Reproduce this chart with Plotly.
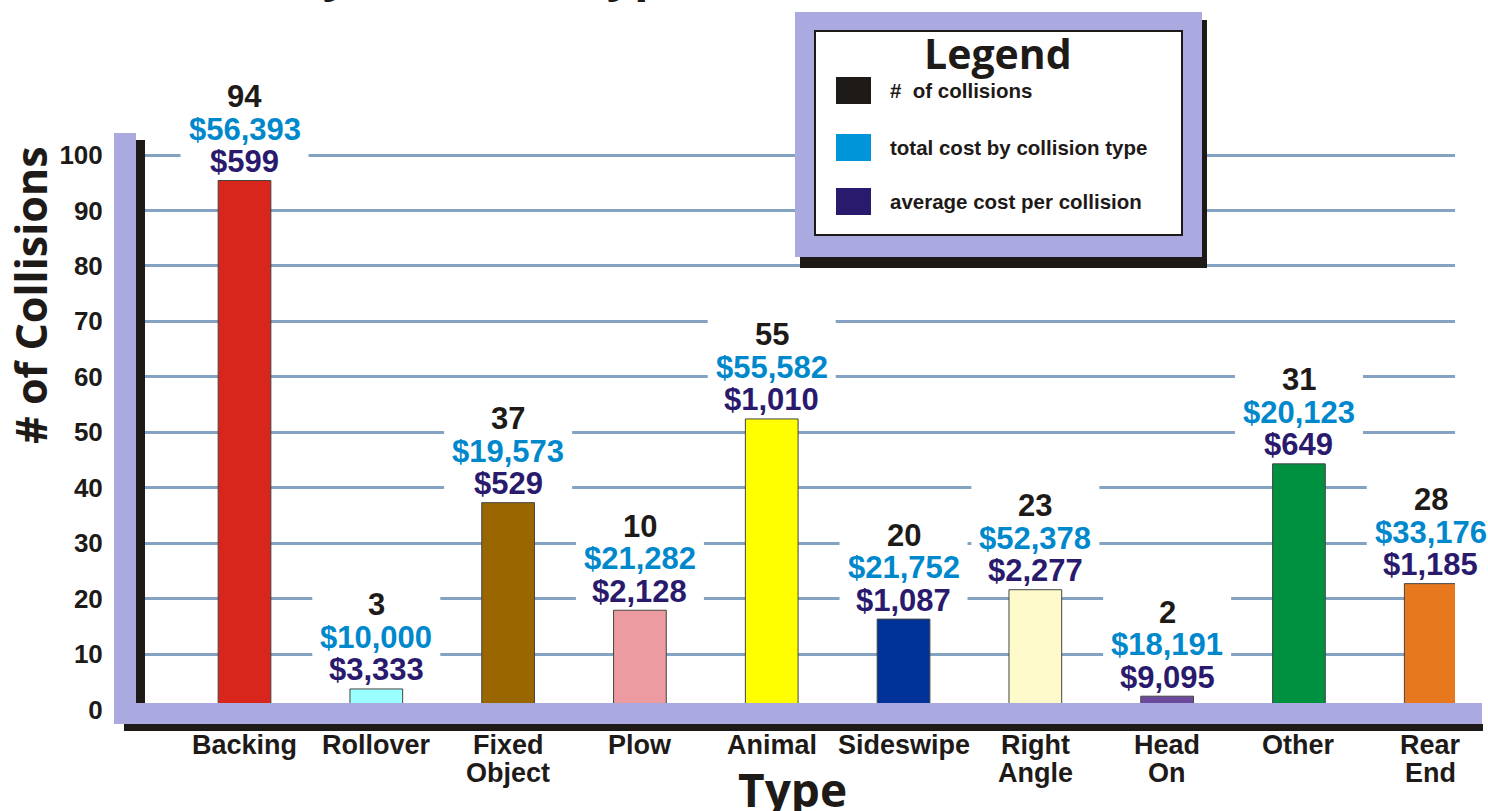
import plotly.graph_objects as go

# ---------------- data ----------------
categories = ["Backing", "Rollover", "Fixed Object", "Plow", "Animal",
              "Sideswipe", "Right Angle", "Head On", "Other", "Rear End"]
bar_heights = [95.4, 3.7, 37.3, 17.9, 52.4, 16.3, 21.6, 2.4, 44.3, 22.7]
collisions = ["94", "3", "37", "10", "55", "20", "23", "2", "31", "28"]
total_cost = ["$56,393", "$10,000", "$19,573", "$21,282", "$55,582",
              "$21,752", "$52,378", "$18,191", "$20,123", "$33,176"]
avg_cost = ["$599", "$3,333", "$529", "$2,128", "$1,010",
            "$1,087", "$2,277", "$9,095", "$649", "$1,185"]
bar_colors = ["#d9261c", "#99ffff", "#996600", "#ec9ca0", "#ffff00",
              "#003399", "#fffacc", "#6e4a9e", "#009140", "#e8781e"]
y_ticks = [0, 10, 20, 30, 40, 50, 60, 70, 80, 90, 100]
legend_items = ["#  of collisions", "total cost by collision type", "average cost per collision"]

# ---------------- styling ----------------
W, H = 1488, 811
L, R, T, B = 145, 1455, 130, 731
BLACK = "#1e1a18"
BLUE = "#0088cc"
PURPLE = "#2a1a6e"
LAV = "#aaa9e0"
GRID = "#84a2c2"
ARIAL = "Liberation Sans, Arial, sans-serif"
HUM = "Open Sans, Noto Sans, sans-serif"
Y0PX, PXU = 709.5, 5.545


def px(x):
    return (x - L) / (R - L)


def py(y):
    return (B - y) / (B - T)


fig = go.Figure()
fig.add_trace(go.Bar(
    x=categories, y=bar_heights, width=0.40,
    marker=dict(color=bar_colors, line=dict(color="#444444", width=1)),
    hoverinfo="skip", showlegend=False,
))

shapes = []
annotations = []

# white boxes behind value labels (hide grid lines) + the three label lines
for i, h in enumerate(bar_heights):
    shapes.append(dict(type="rect", xref="x", yref="y",
                       xsizemode="pixel", ysizemode="pixel",
                       xanchor=i, yanchor=h,
                       x0=-64, x1=64, y0=2, y1=106,
                       fillcolor="white", line=dict(width=0), layer="between"))
    for k, (txt, col) in enumerate([(avg_cost[i], PURPLE), (total_cost[i], BLUE), (collisions[i], BLACK)]):
        annotations.append(dict(x=categories[i], y=h, xref="x", yref="y",
                                text=txt, showarrow=False, yanchor="middle",
                                yshift=19 + 32.5 * k,
                                font=dict(family=ARIAL, size=31, color=col, weight="bold")))

# category labels (two lines with tight leading)
for i, c in enumerate(categories):
    for j, word in enumerate(c.split(" ")):
        annotations.append(dict(x=c, xref="x", yref="paper", y=py(745 + 28 * j),
                                text=word, showarrow=False, yanchor="middle",
                                font=dict(family=ARIAL, size=27, color=BLACK, weight="bold")))


# frame: left wall + bottom floor
def rect(x0, x1, y0, y1, color, layer="above", line=None):
    shapes.append(dict(type="rect", xref="paper", yref="paper",
                       x0=px(x0), x1=px(x1), y0=py(y1), y1=py(y0),
                       fillcolor=color, line=line or dict(width=0), layer=layer))


rect(136, 145, 140, 703, BLACK)
rect(114, 136, 133, 724, LAV)
rect(124, 1483, 724, 731, BLACK)
rect(114, 1482, 703, 724, LAV)

# legend box
rect(800, 1207, 20, 268, BLACK)
rect(795, 1202, 12, 257, LAV)
rect(815, 1182, 31, 235, "white", line=dict(color=BLACK, width=2))
sq_y = [(77, 104), (134, 161), (188, 215)]
sq_col = [BLACK, "#0094d8", PURPLE]
for (a, b), c, t in zip(sq_y, sq_col, legend_items):
    rect(836, 871, a, b, c)
    annotations.append(dict(xref="paper", yref="paper", x=px(888), y=py((a + b) / 2),
                            xanchor="left", yanchor="middle", showarrow=False, text=t,
                            font=dict(family=ARIAL, size=20.5, color=BLACK, weight="bold")))
annotations.append(dict(xref="paper", yref="paper", x=px(998), y=py(53),
                        xanchor="center", yanchor="middle", showarrow=False, text="Legend",
                        font=dict(family=HUM, size=41, color=BLACK, weight="bold")))

# axis titles
annotations.append(dict(xref="paper", yref="paper", x=px(30), y=py(295),
                        xanchor="center", yanchor="middle", showarrow=False,
                        text="# of Collisions", textangle=-90,
                        font=dict(family=HUM, size=43, color=BLACK, weight="bold")))
annotations.append(dict(xref="paper", yref="paper", x=px(792), y=py(789),
                        xanchor="center", yanchor="middle", showarrow=False,
                        text="Type",
                        font=dict(family=HUM, size=46, color=BLACK, weight="bold")))
# title (mostly above the visible page, only descenders show)
annotations.append(dict(xref="paper", yref="paper", x=px(50), y=py(6),
                        xanchor="left", yanchor="bottom", showarrow=False,
                        text="Collisions by Collision Type",
                        font=dict(family=HUM, size=48, color=BLACK, weight="bold")))

fig.update_layout(
    width=W, height=H,
    margin=dict(l=L, r=W - R, t=T, b=H - B, pad=0),
    paper_bgcolor="white", plot_bgcolor="white",
    shapes=shapes, annotations=annotations,
    xaxis=dict(type="category", range=[-0.755, 9.184], showgrid=False,
               showline=False, zeroline=False, showticklabels=False, ticks=""),
    yaxis=dict(range=[(Y0PX - B) / PXU, (Y0PX - T) / PXU], tickvals=y_ticks,
               showgrid=True, gridcolor=GRID, gridwidth=3, zeroline=False,
               showline=False, ticks="outside", ticklen=36,
               tickcolor="rgba(0,0,0,0)",
               tickfont=dict(family=ARIAL, size=26, color=BLACK, weight="bold")),
)

fig.write_html("out.html", config={"displayModeBar": False},
               post_script="document.body.style.margin='0';document.body.style.overflow='hidden';")
